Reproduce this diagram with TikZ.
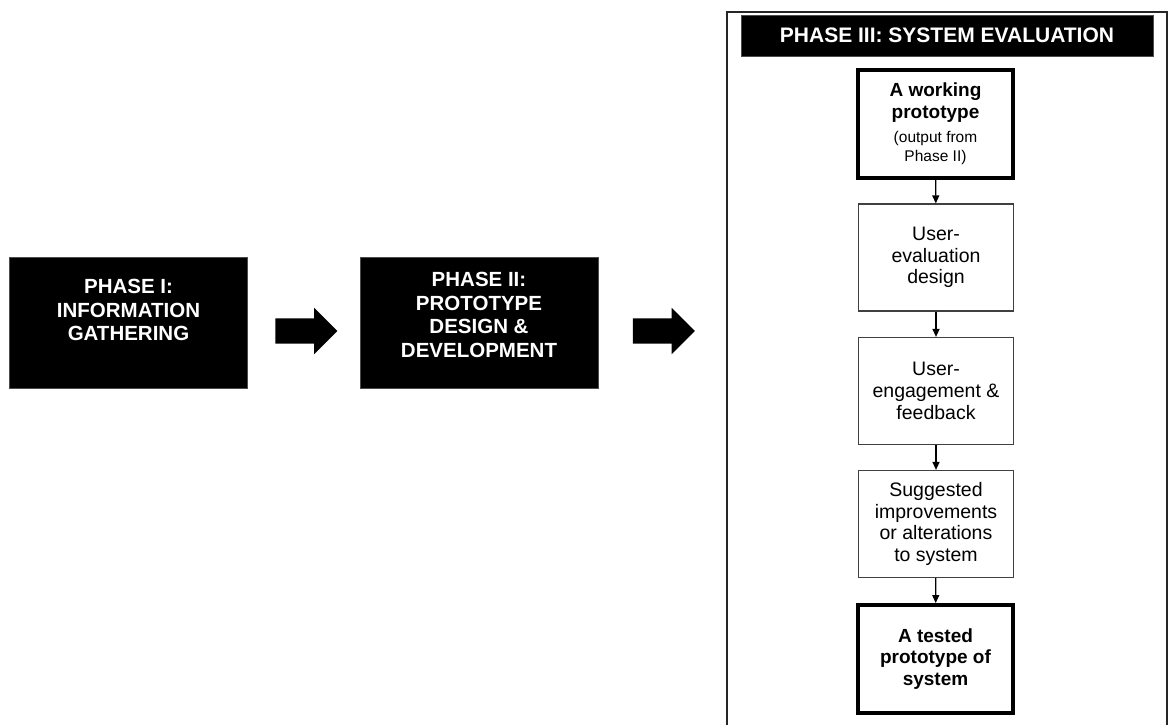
\documentclass[tikz,border=0pt]{standalone}
\usepackage{fontspec}
\setsansfont{Liberation Sans}
\usetikzlibrary{shapes.arrows,arrows.meta}

\newcommand{\subnote}{\mdseries\fontsize{15.5}{17}\selectfont}

\begin{document}
\begin{tikzpicture}[
  x=1pt, y=1pt,
  font=\sffamily,
  phase/.style={
    fill=black, draw=black!70, line width=0.8pt,
    minimum width=238pt, minimum height=131pt,
  },
  phasetext/.style={
    text=white, align=center, anchor=north, inner sep=0pt,
    font=\sffamily\bfseries\fontsize{20.5}{23.5}\selectfont,
  },
  header/.style={
    fill=black, draw=black!70, line width=0.8pt, text=white,
    minimum width=412pt, minimum height=41pt, inner sep=0pt,
    font=\sffamily\bfseries\fontsize{21}{24}\selectfont,
  },
  stepbox/.style={
    draw=black!75, line width=1.2pt, fill=white,
    minimum width=155pt, minimum height=107pt, inner sep=0pt,
    align=center, font=\sffamily\fontsize{19.5}{21.7}\selectfont,
  },
  keybox/.style={
    stepbox, draw=black, line width=4pt, minimum height=108pt,
    font=\sffamily\bfseries\fontsize{19}{21.7}\selectfont,
  },
  flow/.style={-{Triangle[length=8pt,width=7pt]}, line width=1.2pt},
  bigarrow/.style={
    single arrow, fill=black, inner xsep=0pt, inner ysep=12.5pt,
    minimum height=62pt,
    single arrow head extend=10.5pt, single arrow head indent=0pt,
  },
]
\useasboundingbox (0,0) rectangle (1170,-724);

% phases I and II
\node[phase] (p1) at (128.5,-322.5) {};
\node[phasetext] (p1txt) at (128.5,-279) {PHASE I:\\INFORMATION\\GATHERING};
\node[phase] (p2) at (479,-322.5) {};
\node[phasetext] (p2txt) at (479,-272) {PHASE II:\\PROTOTYPE\\DESIGN \&\\DEVELOPMENT};

% block arrows between phases (centre anchor sits on the shaft)
\node[bigarrow] (a1) at (300,-331) {};
\node[bigarrow] (a2) at (657.5,-331) {};

% phase III frame, open at the bottom
\draw[line width=2.5pt, black!85] (727,-730) -- (727,-12) -- (1167,-12) -- (1167,-730);
\node[header] (p3) at (947,-35.5) {PHASE III: SYSTEM EVALUATION};

\node[keybox] (work) at (935.5,-124) {A working\\prototype\\[2pt]{\subnote (output from}\\[-2pt]{\subnote Phase II)}};
\node[stepbox] (ued) at (936,-257.5) {User-\\evaluation\\design};
\node[stepbox] (ueng) at (936,-391) {User-\\engagement \&\\feedback};
\node[stepbox] (sugg) at (936,-524) {Suggested\\improvements\\or alterations\\to system};
\node[keybox] (tested) at (935.5,-659) {A tested\\prototype of\\system};

\draw[flow] (work) -- (ued);
\draw[flow] (ued) -- (ueng);
\draw[flow] (ueng) -- (sugg);
\draw[flow] (sugg) -- (tested);

\end{tikzpicture}
\end{document}
